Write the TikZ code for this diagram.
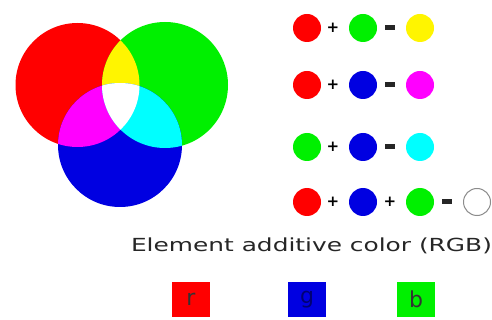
\documentclass[tikz,border=0pt]{standalone}
\usepackage{fontspec}
\setmainfont{DejaVu Sans}
\definecolor{cR}{RGB}{255,0,0}
\definecolor{cG}{RGB}{0,240,0}
\definecolor{cB}{RGB}{0,0,225}
\definecolor{cY}{RGB}{255,245,0}
\definecolor{cM}{RGB}{255,0,255}
\definecolor{cC}{RGB}{0,255,255}
\begin{document}
\begin{tikzpicture}[x=1pt,y=-1pt,
  dot/.style={circle,minimum size=28pt,inner sep=0pt},
  plusop/.style={font=\bfseries\fontsize{15}{16}\selectfont,inner sep=0pt},
  eqop/.style={fill=black!85,minimum width=10pt,minimum height=5pt,inner sep=0pt},
  swatch/.style={minimum width=38pt,minimum height=35pt,inner sep=0pt,font=\fontsize{22}{24}\selectfont}]
\useasboundingbox (0,0) rectangle (492,320);
\fill[white] (0,0) rectangle (492,320);
% Venn
\def\Rc{(77.5,85) circle[radius=62pt]}
\def\Gc{(165,85) circle[radius=63pt]}
\def\Bc{(120,145) circle[radius=62pt]}
\fill[cR] \Rc;
\fill[cG] \Gc;
\fill[cB] \Bc;
\begin{scope}\clip \Rc; \fill[cY] \Gc; \end{scope}
\begin{scope}\clip \Rc; \fill[cM] \Bc; \end{scope}
\begin{scope}\clip \Gc; \fill[cC] \Bc; \end{scope}
\begin{scope}\clip \Rc; \clip \Gc; \fill[white] \Bc; \end{scope}
% equations
\node[dot,fill=cR] (a1) at (307,28) {};
\node[plusop] (p1) at (333,28) {+};
\node[dot,fill=cG] (a2) at (363,28) {};
\node[eqop] (e1) at (390,28) {};
\node[dot,fill=cY] (a3) at (420,28) {};
\node[dot,fill=cR] (b1) at (307,85) {};
\node[plusop] (p2) at (333,85) {+};
\node[dot,fill=cB] (b2) at (363,85) {};
\node[eqop] (e2) at (390,85) {};
\node[dot,fill=cM] (b3) at (420,85) {};
\node[dot,fill=cG] (c1) at (307,147) {};
\node[plusop] (p3) at (333,147) {+};
\node[dot,fill=cB] (c2) at (363,147) {};
\node[eqop] (e3) at (390,147) {};
\node[dot,fill=cC] (c3) at (420,147) {};
\node[dot,fill=cR] (d1) at (307,202) {};
\node[plusop] (p4) at (333,202) {+};
\node[dot,fill=cB] (d2) at (363,202) {};
\node[plusop] (p5) at (390,202) {+};
\node[dot,fill=cG] (d3) at (420,202) {};
\node[eqop] (e4) at (447,202) {};
\node[dot,draw=black!45,line width=1pt,fill=white,minimum size=27pt] (d4) at (477,202) {};
% title
\node[inner sep=0pt,text=black!85] (title) at (311.5,246) {\scalebox{1.38}[1]{\fontsize{18}{20}\selectfont Element additive color (RGB)}};
% swatches
\node[swatch,fill=cR,text=black!80] (sr) at (191,299.5) {r};
\node[swatch,fill=cB,text=blue!45!black] (sg) at (307,299.5) {g};
\node[swatch,fill=cG,text=black!80] (sb) at (416,299.5) {b};
\end{tikzpicture}
\end{document}
